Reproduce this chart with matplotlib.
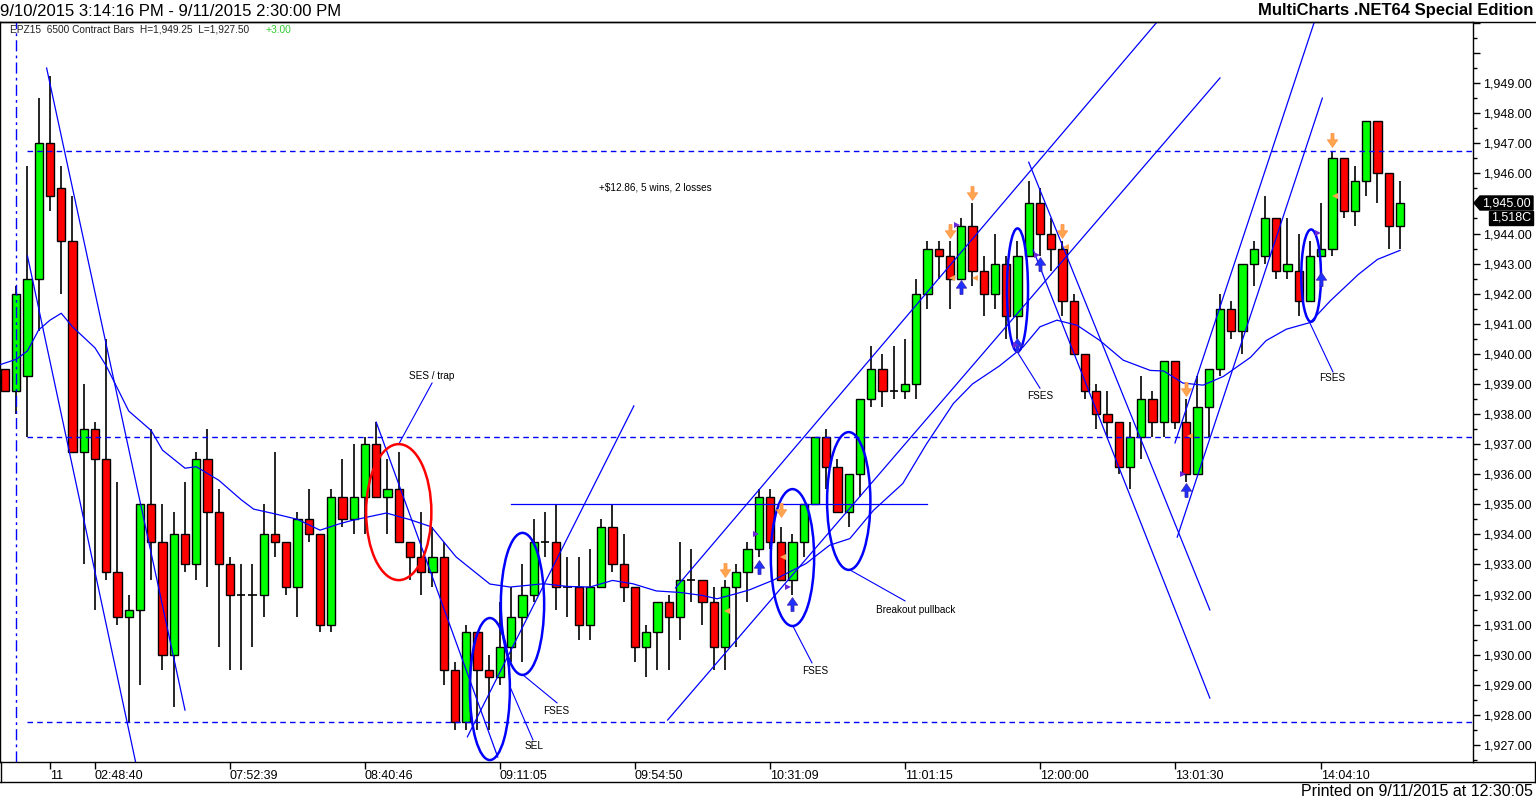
import matplotlib
matplotlib.use('Agg')
import matplotlib.pyplot as plt
from matplotlib.patches import Ellipse, Polygon, Rectangle
from matplotlib.lines import Line2D
from matplotlib.ticker import MultipleLocator, FuncFormatter
import numpy as np

plt.rcParams['font.family'] = ['Liberation Sans', 'DejaVu Sans']

# OHLC of the 6500 contract bars
opens = [1939.5, 1938.75, 1939.25, 1942.5, 1947.0, 1945.5, 1943.75, 1936.75, 1937.5, 1936.5,
         1932.75, 1931.25, 1931.5, 1935.0, 1933.75, 1930.0, 1934.0, 1933.0, 1936.5, 1934.75,
         1933.0, 1932.0, 1932.0, 1932.0, 1934.0, 1933.75, 1932.25, 1934.5, 1934.0, 1931.0,
         1935.25, 1934.5, 1935.25, 1937.0, 1935.25, 1935.5, 1933.75, 1933.25, 1932.75, 1933.25,
         1929.5, 1927.75, 1930.75, 1929.5, 1929.25, 1930.25, 1931.25, 1932.0, 1933.75, 1933.75,
         1932.25, 1932.25, 1931.0, 1932.25, 1934.25, 1933.0, 1932.25, 1930.25, 1930.75, 1931.75,
         1931.25, 1932.5, 1932.5, 1931.75, 1930.25, 1932.25, 1932.75, 1933.5, 1935.25, 1933.75,
         1932.5, 1933.75, 1935.0, 1937.25, 1936.25, 1934.75, 1936.0, 1938.5, 1939.5, 1938.75,
         1938.75, 1939.0, 1942.0, 1943.5, 1943.25, 1942.5, 1944.25, 1942.75, 1942.0, 1943.0,
         1941.25, 1943.25, 1945.0, 1944.0, 1943.5, 1941.75, 1940.0, 1938.75, 1938.0, 1937.75,
         1936.25, 1937.25, 1938.5, 1937.75, 1939.75, 1937.75, 1936.0, 1938.25, 1939.5, 1941.5,
         1940.75, 1943.0, 1943.25, 1944.5, 1942.75, 1942.75, 1941.75, 1943.25, 1943.5, 1946.5,
         1944.75, 1945.75, 1947.75, 1946.0, 1944.25]
highs = [1939.5, 1942.25, 1946.25, 1948.5, 1949.25, 1946.25, 1945.25, 1939.0, 1937.75, 1940.5,
         1935.75, 1932.0, 1935.0, 1937.5, 1935.0, 1934.75, 1935.75, 1936.75, 1937.5, 1935.5,
         1933.25, 1933.0, 1933.0, 1935.0, 1936.75, 1933.75, 1934.75, 1935.5, 1934.0, 1935.5,
         1936.5, 1937.0, 1937.25, 1937.75, 1936.5, 1936.75, 1933.75, 1934.75, 1934.25, 1933.75,
         1929.75, 1931.0, 1930.75, 1930.0, 1931.75, 1932.25, 1933.0, 1934.5, 1934.75, 1935.0,
         1933.25, 1933.25, 1933.5, 1934.5, 1935.0, 1934.0, 1932.25, 1931.0, 1931.75, 1932.0,
         1933.75, 1933.5, 1932.5, 1932.25, 1932.5, 1933.0, 1933.75, 1935.5, 1935.5, 1934.25,
         1934.0, 1935.0, 1937.25, 1937.5, 1936.5, 1936.0, 1938.5, 1940.25, 1940.0, 1940.25,
         1940.5, 1942.5, 1943.75, 1943.75, 1943.75, 1944.5, 1945.0, 1943.25, 1944.0, 1943.25,
         1943.75, 1945.75, 1945.5, 1944.5, 1943.75, 1942.0, 1940.0, 1939.0, 1938.75, 1937.75,
         1937.75, 1939.25, 1938.75, 1939.75, 1939.75, 1938.5, 1939.25, 1939.5, 1942.0, 1941.75,
         1943.0, 1943.75, 1945.25, 1944.5, 1944.5, 1944.0, 1943.75, 1945.0, 1946.75, 1946.5,
         1946.25, 1947.75, 1947.75, 1946.0, 1945.75]
lows = [1938.75, 1938.0, 1937.25, 1940.75, 1944.75, 1942.0, 1936.75, 1933.0, 1931.5, 1932.5,
        1931.0, 1927.75, 1929.0, 1932.5, 1929.5, 1928.25, 1932.75, 1932.5, 1932.25, 1930.25,
        1929.5, 1929.5, 1930.25, 1931.25, 1933.25, 1932.0, 1931.25, 1933.75, 1930.75, 1930.75,
        1934.25, 1934.0, 1934.0, 1935.25, 1934.0, 1933.75, 1932.5, 1932.0, 1932.25, 1929.0,
        1927.5, 1927.5, 1927.5, 1927.5, 1929.0, 1929.75, 1929.75, 1931.75, 1933.25, 1931.5,
        1931.25, 1930.5, 1930.5, 1932.25, 1932.75, 1931.75, 1929.75, 1929.25, 1929.5, 1929.5,
        1930.5, 1931.75, 1931.0, 1929.5, 1929.5, 1930.25, 1931.75, 1933.25, 1933.5, 1932.5,
        1932.0, 1933.25, 1935.0, 1935.5, 1934.75, 1934.25, 1935.25, 1938.25, 1938.25, 1938.5,
        1938.5, 1938.5, 1941.5, 1942.5, 1941.5, 1942.5, 1942.25, 1941.25, 1941.5, 1940.5,
        1940.5, 1943.25, 1943.25, 1942.75, 1941.25, 1940.0, 1938.5, 1937.5, 1937.25, 1936.0,
        1935.5, 1936.5, 1937.25, 1937.25, 1937.5, 1935.75, 1936.0, 1937.25, 1939.25, 1940.5,
        1940.0, 1942.25, 1943.0, 1942.5, 1942.5, 1941.25, 1941.75, 1943.25, 1943.25, 1944.5,
        1944.25, 1945.25, 1945.0, 1943.5, 1943.5]
closes = [1938.75, 1942.0, 1942.5, 1947.0, 1945.25, 1943.75, 1936.75, 1937.5, 1936.5, 1932.75,
          1931.25, 1931.5, 1935.0, 1933.75, 1930.0, 1934.0, 1933.0, 1936.5, 1934.75, 1933.0,
          1932.0, 1932.0, 1932.0, 1934.0, 1933.75, 1932.25, 1934.5, 1934.0, 1931.0, 1935.25,
          1934.5, 1935.25, 1937.0, 1935.25, 1935.5, 1933.75, 1933.25, 1932.75, 1933.25, 1929.5,
          1927.75, 1930.75, 1929.5, 1929.25, 1930.25, 1931.25, 1932.0, 1933.75, 1933.75, 1932.25,
          1932.25, 1931.0, 1932.25, 1934.25, 1933.0, 1932.25, 1930.25, 1930.75, 1931.75, 1931.25,
          1932.5, 1932.5, 1931.75, 1930.25, 1932.25, 1932.75, 1933.5, 1935.25, 1933.75, 1932.5,
          1933.75, 1935.0, 1937.25, 1936.25, 1934.75, 1936.0, 1938.5, 1939.5, 1938.75, 1938.75,
          1939.0, 1942.0, 1943.5, 1943.25, 1942.5, 1944.25, 1942.75, 1942.0, 1943.0, 1941.25,
          1943.25, 1945.0, 1944.0, 1943.5, 1941.75, 1940.0, 1938.75, 1938.0, 1937.75, 1936.25,
          1937.25, 1938.5, 1937.75, 1939.75, 1937.75, 1936.0, 1938.25, 1939.5, 1941.5, 1940.75,
          1943.0, 1943.5, 1944.5, 1942.75, 1943.0, 1941.75, 1943.25, 1943.5, 1946.5, 1944.75,
          1945.75, 1947.75, 1946.0, 1944.25, 1945.0]

# moving average (bar position, price)
ma_idx = [-0.44, 1, 2, 3, 4, 5, 6, 8, 9, 11, 13, 14, 16, 17, 19, 21, 22.1, 23.9, 26, 28, 29.8,
          30.9, 33.9, 36, 37.9, 40.1, 43.1, 44.9, 47.9, 50, 52, 54, 55.8, 57.9, 60, 62, 63.3,
          65, 66.2, 68.3, 71.2, 73.3, 75.1, 77.2, 79.8, 81.9, 84.3, 86, 88.4, 90.5, 92, 93.5,
          95.3, 97.3, 99.4, 101.8, 103, 104.7, 106.5, 108.3, 110.7, 112.1, 113.9, 116, 117.8,
          120.3, 122, 124]
ma_val = [1939.64, 1939.82, 1940.1, 1940.8, 1941.12, 1941.35, 1940.9, 1940.2, 1939.6, 1938.1,
          1937.45, 1936.8, 1936.2, 1936.25, 1935.8, 1935.15, 1934.84, 1934.69, 1934.5, 1934.14,
          1934.36, 1934.47, 1934.71, 1934.49, 1934.25, 1933.25, 1932.35, 1932.25, 1932.36,
          1932.27, 1932.25, 1932.47, 1932.36, 1932.12, 1932.07, 1931.97, 1931.86, 1932.03,
          1932.16, 1932.48, 1933.03, 1933.64, 1933.86, 1934.8, 1935.69, 1937.0, 1938.35,
          1939.0, 1939.6, 1940.23, 1940.9, 1941.12, 1940.95, 1940.45, 1939.79, 1939.45,
          1939.43, 1939.03, 1938.96, 1939.25, 1939.88, 1940.44, 1940.82, 1941.04, 1941.76,
          1942.64, 1943.14, 1943.44]

# reference levels (dashed)
levels = [1946.75, 1937.25, 1927.75]

# hand-drawn trend lines ((bar, price), (bar, price))
trendlines = [((3.7, 1949.5), (16.0, 1928.16)),
              ((2.0, 1943.25), (11.6, 1926.45)),
              ((33.0, 1937.73), (43.8, 1926.6)),
              ((41.1, 1927.27), (55.9, 1938.27)),
              ((45.0, 1935.0), (82.0, 1935.0)),
              ((58.9, 1927.83), (108.0, 1949.17)),
              ((59.6, 1932.22), (102.7, 1951.16)),
              ((91.0, 1946.37), (107.1, 1931.49)),
              ((91.4, 1943.45), (107.1, 1928.56)),
              ((104.0, 1937.04), (116.5, 1951.16)),
              ((104.2, 1933.91), (117.1, 1948.5))]

# ellipses: (bar, price, width in bars, height in points, colour)
ellipses = [(35.0, 1934.74, 5.8, 4.52, 'red'),
            (43.1, 1928.86, 3.56, 4.72, 'blue'),
            (46.0, 1931.69, 3.85, 4.72, 'blue'),
            (70.0, 1933.23, 3.85, 4.55, 'blue'),
            (75.0, 1935.11, 3.85, 4.58, 'blue'),
            (90.0, 1942.12, 1.87, 4.1, 'blue'),
            (116.1, 1942.6, 1.75, 3.07, 'blue')]

# notes: text, text position, leader start, leader end
notes = [('SES / trap', (37.96, 1939.26), (37.96, 1939.03), (35.0, 1937.0)),
         ('FSES', (49.0, 1928.13), (46.04, 1929.33), (49.07, 1928.4)),
         ('SEL', (47.0, 1926.97), (44.98, 1928.86), (46.93, 1927.17)),
         ('FSES', (72.0, 1929.46), (70.04, 1930.95), (71.73, 1929.73)),
         ('Breakout pullback', (80.98, 1931.49), (75.1, 1932.82), (80.0, 1931.79)),
         ('FSES', (92.0, 1938.6), (90.04, 1940.03), (92.0, 1938.86)),
         ('FSES', (117.96, 1939.2), (116.0, 1941.02), (118.04, 1939.4))]

# strategy signals
sell_idx = [64, 69, 84, 86, 94, 105, 118]
sell_px = [1932.8, 1934.8, 1944.1, 1945.35, 1944.1, 1938.82, 1947.1]
buy_idx = [67, 70, 85, 90, 92, 105, 117]
buy_px = [1932.93, 1931.7, 1942.23, 1940.3, 1943.0, 1935.47, 1942.5]
exit_s_idx = [64.2, 69.2, 84.2, 86.2, 94.3, 105.3, 118.2]
exit_s_px = [1931.46, 1933.25, 1942.52, 1942.52, 1943.55, 1937.27, 1945.25]
exit_b_idx = [66.8, 69.6, 84.6, 89.9, 91.7, 104.7, 116.7]
exit_b_px = [1934.0, 1932.26, 1944.28, 1940.29, 1943.28, 1936.0, 1944.02]

tick_idx = [4, 8, 20, 32, 44, 56, 68, 80, 92, 104, 117]
tick_lbl = ['11', '02:48:40', '07:52:39', '08:40:46', '09:11:05', '09:54:50',
            '10:31:09', '11:01:15', '12:00:00', '13:01:30', '14:04:10']

W, H = 1536, 801


def fx(px):
    return px / W


def fy(py):
    return 1 - py / H


fig = plt.figure(figsize=(W / 100, H / 100), dpi=100)
ax = fig.add_axes([0, fy(762), fx(1473), (762 - 22) / H])
ax.set_xlim(-0.444, 130.49)
ax.set_ylim(1926.435, 1951.03)

o = np.array(opens)
h = np.array(highs)
l = np.array(lows)
c = np.array(closes)
x = np.arange(len(o))
up = c > o
dn = c < o
fl = c == o
bw = 0.72

ax.vlines(x, l, h, color='black', lw=1.2, zorder=2)
ax.bar(x[up], (c - o)[up], bottom=o[up], width=bw, color='#00ff00',
       edgecolor='black', lw=1, zorder=3)
ax.bar(x[dn], (o - c)[dn], bottom=c[dn], width=bw, color='#ff0000',
       edgecolor='black', lw=1, zorder=3)
ax.hlines(o[fl], x[fl] - bw / 2, x[fl] + bw / 2, color='black', lw=1.2, zorder=3)

blue = '#0000ff'
for lv in levels:
    ax.hlines(lv, 2, 130.49, color=blue, lw=1, linestyles=(0, (4, 3)), zorder=4)
ax.axvline(1, color=blue, lw=1, linestyle=(0, (8, 3, 2, 3)), zorder=4)

ax.plot(ma_idx, ma_val, color=blue, lw=0.9, zorder=5)
for (x0, y0), (x1, y1) in trendlines:
    ax.plot([x0, x1], [y0, y1], color=blue, lw=0.9, zorder=5)

for cx, cy, ew, eh, col in ellipses:
    ax.add_patch(Ellipse((cx, cy), ew, eh, fill=False, edgecolor=col, lw=1.8, zorder=6))

for txt, pos, a, b in notes:
    ax.plot([a[0], b[0]], [a[1], b[1]], color=blue, lw=0.8, zorder=5)
    ax.text(pos[0], pos[1], txt, ha='center', va='center', fontsize=7.2, zorder=7)

ax.text(57.8, 1945.54, '+$12.86, 5 wins, 2 losses', ha='center', va='center', fontsize=7.2)

down_arrow = [(-0.22, 1), (0.22, 1), (0.22, 0.1), (0.75, 0.1), (0, -1), (-0.75, 0.1),
              (-0.22, 0.1), (-0.22, 1)]
up_arrow = [(px_, -py_) for px_, py_ in down_arrow]
ax.plot(sell_idx, sell_px, ls='none', marker=down_arrow, ms=10, color='#ffa550',
        mec='#ff9040', mew=0.5, zorder=8)
ax.plot(buy_idx, buy_px, ls='none', marker=up_arrow, ms=10, color='#1e32ff',
        mec='#3a1eaa', mew=0.5, zorder=8)
ax.plot(exit_s_idx, exit_s_px, ls='none', marker='<', ms=5, color='#ffa550', mew=0, zorder=8)
ax.plot(exit_b_idx, exit_b_px, ls='none', marker='>', ms=5, color='#6a28d8', mew=0, zorder=8)

# axes
for s in ax.spines.values():
    s.set_linewidth(1.0)
    s.set_color('black')
ax.yaxis.tick_right()
ax.yaxis.set_major_locator(MultipleLocator(1))
ax.yaxis.set_minor_locator(MultipleLocator(0.5))
ax.yaxis.set_major_formatter(FuncFormatter(lambda v, p: f'{v:,.2f}' if v < 1949.5 else ''))
ax.tick_params(axis='y', which='major', length=5, width=1, labelsize=9, pad=2)
ax.tick_params(axis='y', which='minor', length=3, width=1)
ax.set_xticks(tick_idx)
ax.set_xticklabels(tick_lbl, ha='left')
ax.tick_params(axis='x', length=5, width=1, labelsize=9, pad=1)

# frame pieces outside the plot area
for xs, ys in [([0, 1], [fy(22), fy(22)]),
               ([0, fx(1535)], [fy(782), fy(782)]),
               ([fx(1473), fx(1535)], [fy(762), fy(762)]),
               ([fx(1535), fx(1535)], [fy(762), fy(782)]),
               ([fx(0.5), fx(0.5)], [fy(762), fy(782)])]:
    fig.add_artist(Line2D(xs, ys, color='black', lw=1.0, transform=fig.transFigure))

fig.text(fx(0), fy(11), '9/10/2015 3:14:16 PM - 9/11/2015 2:30:00 PM', fontsize=12,
         ha='left', va='center')
fig.text(fx(1533), fy(11), 'MultiCharts .NET64 Special Edition', fontsize=12,
         fontweight='bold', ha='right', va='center')
fig.text(fx(10), fy(30), 'EPZ15  6500 Contract Bars  H=1,949.25  L=1,927.50', fontsize=7.3,
         ha='left', va='center', color='#202020')
fig.text(fx(265), fy(30), '+3.00', fontsize=7.3, ha='left', va='center', color='#33cc33')
fig.text(fx(1533), fy(792), 'Printed on 9/11/2015 at 12:30:05', fontsize=11.5,
         ha='right', va='center')

# last price tag
tag = Polygon([(fx(1474), fy(203)), (fx(1480), fy(196)), (fx(1533), fy(196)),
               (fx(1533), fy(210)), (fx(1480), fy(210))], closed=True,
              transform=fig.transFigure, color='black')
fig.add_artist(tag)
fig.text(fx(1506), fy(203), '1,945.00', fontsize=9, color='white', ha='center', va='center')
fig.add_artist(Rectangle((fx(1489), fy(225)), fx(1533) - fx(1489), fy(211) - fy(225),
                         transform=fig.transFigure, color='black'))
fig.text(fx(1511), fy(218), '1,518C', fontsize=9, color='white', ha='center', va='center')

fig.savefig('out.png', dpi=100)
